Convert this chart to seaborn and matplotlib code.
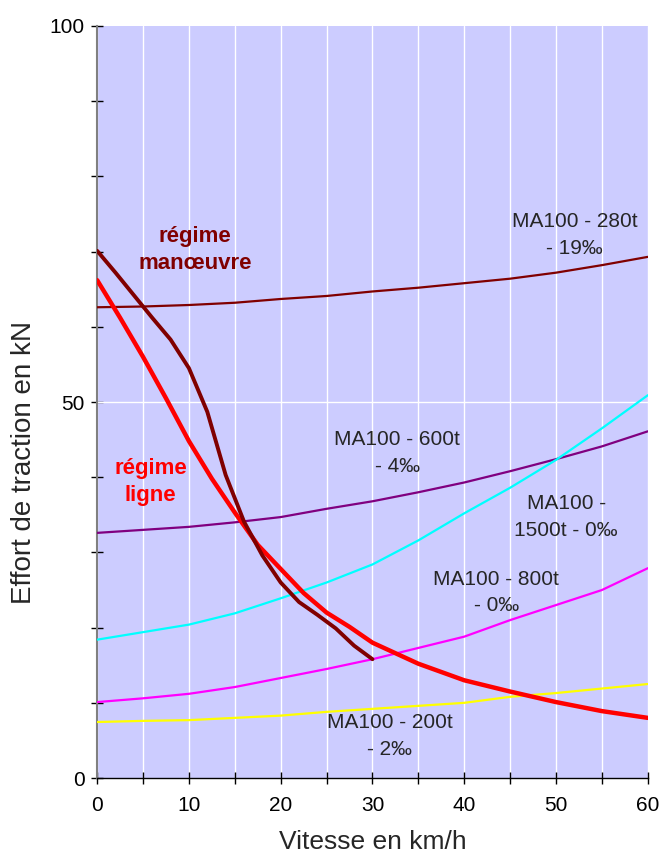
import pandas as pd
import seaborn as sns
from matplotlib import pyplot as plt
from matplotlib.ticker import MultipleLocator

sns.set_theme(style="ticks")
plt.rcParams["font.family"] = ["Liberation Sans", "DejaVu Sans"]

# speeds (km/h) for the load curves
speed = [0, 5, 10, 15, 20, 25, 30, 35, 40, 45, 50, 55, 60]
ma280_19 = [62.6, 62.7, 62.9, 63.2, 63.7, 64.1, 64.7, 65.2, 65.8, 66.4, 67.2, 68.2, 69.3]
ma600_4 = [32.6, 33.0, 33.4, 34.0, 34.7, 35.8, 36.8, 38.0, 39.3, 40.8, 42.4, 44.1, 46.1]
ma1500_0 = [18.4, 19.4, 20.4, 21.9, 23.9, 26.0, 28.4, 31.6, 35.2, 38.6, 42.3, 46.5, 50.9]
ma800_0 = [10.1, 10.6, 11.2, 12.1, 13.3, 14.5, 15.8, 17.3, 18.8, 21.0, 23.0, 25.0, 27.9]
ma200_2 = [7.45, 7.6, 7.7, 8.0, 8.3, 8.8, 9.2, 9.6, 10.0, 10.8, 11.3, 11.9, 12.5]

# régime ligne
ligne_speed = [0, 2.5, 5, 7.5, 10, 12.5, 15, 17.5, 20, 22.5, 25, 27.5, 30, 35, 40, 45, 50, 55, 60]
ligne_effort = [66.2, 61.2, 56.0, 50.5, 44.8, 39.8, 35.3, 31.0, 27.8, 24.6, 22.0, 20.1, 18.0,
                15.2, 13.0, 11.5, 10.1, 8.9, 8.0]

# régime manoeuvre
manoeuvre_speed = [0, 2, 4, 6, 8, 10, 12, 14, 16, 18, 20, 22, 24, 26, 28, 30]
manoeuvre_effort = [70.1, 67.2, 64.2, 61.2, 58.3, 54.5, 48.7, 40.3, 34.1, 29.6, 26.0, 23.4,
                    21.7, 19.9, 17.6, 15.8]

fig = plt.figure(figsize=(6.61, 8.58), dpi=100)
ax = fig.add_axes([0.147, 0.0932, 0.833, 0.8765])
ax.set_facecolor("#CCCCFF")

thin = [
    (ma280_19, "#800000"),
    (ma600_4, "#800080"),
    (ma1500_0, "#00FFFF"),
    (ma800_0, "#FF00FF"),
    (ma200_2, "#FFFF00"),
]
for values, col in thin:
    sns.lineplot(x=speed, y=values, ax=ax, color=col, lw=1.6, zorder=3)

sns.lineplot(x=ligne_speed, y=ligne_effort, ax=ax, color="#FF0000", lw=3.2, zorder=4)
sns.lineplot(x=manoeuvre_speed, y=manoeuvre_effort, ax=ax, color="#800000", lw=2.8, zorder=5)

ax.set_xlim(0, 60)
ax.set_ylim(0, 100)
ax.xaxis.set_major_locator(MultipleLocator(10))
ax.xaxis.set_minor_locator(MultipleLocator(5))
ax.yaxis.set_major_locator(MultipleLocator(50))
ax.yaxis.set_minor_locator(MultipleLocator(10))
ax.tick_params(axis="both", which="both", direction="inout", length=8, width=1,
               colors="black", labelsize=15)
ax.tick_params(axis="x", which="major", pad=9)
ax.tick_params(axis="y", which="major", pad=5)

ax.grid(axis="x", which="both", color="white", lw=1, zorder=1)
ax.axhline(50, color="white", lw=1, zorder=1)
ax.set_axisbelow(True)

for s in ["top", "right"]:
    ax.spines[s].set_visible(False)
ax.spines["left"].set_color("#808080")
ax.spines["left"].set_linewidth(1.5)
ax.spines["bottom"].set_color("black")
ax.spines["bottom"].set_linewidth(1)

ax.set_xlabel("Vitesse en km/h", fontsize=19, labelpad=11)
ax.set_ylabel("Effort de traction en kN", fontsize=20)
ax.yaxis.set_label_coords(-0.11, 0.42)

lab = dict(ha="center", va="center", fontsize=15, linespacing=1.5, zorder=6)
ax.text(52, 72.2, "MA100 - 280t\n- 19‰", **lab)
ax.text(32.7, 43.2, "MA100 - 600t\n- 4‰", **lab)
ax.text(51.1, 34.7, "MA100 -\n1500t - 0‰", **lab)
ax.text(43.5, 24.7, "MA100 - 800t\n- 0‰", **lab)
ax.text(31.9, 5.6, "MA100 - 200t\n- 2‰", **lab)

bold = dict(ha="center", va="center", fontsize=16, fontweight="bold", linespacing=1.35, zorder=6)
ax.text(10.7, 70.2, "régime\nmanœuvre", color="#800000", **bold)
ax.text(5.8, 39.4, "régime\nligne", color="#FF0000", **bold)

plt.savefig("out.png", dpi=100)
